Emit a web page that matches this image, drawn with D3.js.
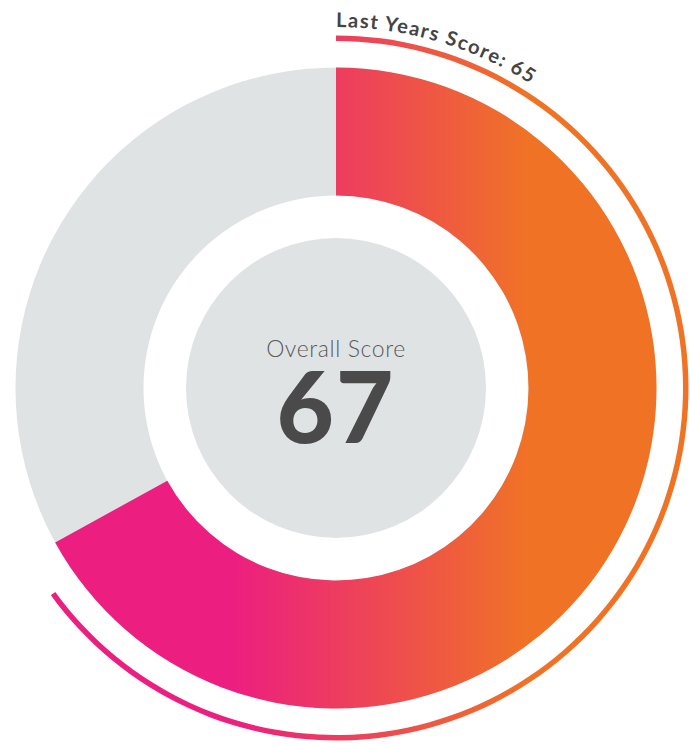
<!DOCTYPE html>
<html>
<head>
<meta charset="utf-8">
<script src="https://cdn.jsdelivr.net/npm/d3@7"></script>
<style>
  html, body { margin: 0; padding: 0; background: #fff; }
  svg { display: block; }
</style>
</head>
<body>
<svg id="chart" width="690" height="746"></svg>
<script>
// ---- data ----
const scoreLabels = ["Overall Score"];
const scoreValues = [67];
const lastYearLabels = ["Last Years Score"];
const lastYearValues = [65];
const scaleMax = [100];
const gradientColors = ["#EC1E80", "#F07325"];
const trackColor = "#E0E3E4";

const svg = d3.select("#chart");
const cx = 336, cy = 388;
const g = svg.append("g").attr("transform", `translate(${cx},${cy})`);

const angle = d3.scaleLinear().domain([0, scaleMax[0]]).range([0, 2 * Math.PI]);

// gradient (horizontal, user space, relative to center)
const defs = svg.append("defs");
const grad = defs.append("linearGradient")
  .attr("id", "scoreGrad")
  .attr("gradientUnits", "userSpaceOnUse")
  .attr("x1", 232 - cx).attr("y1", 0)
  .attr("x2", 530 - cx).attr("y2", 0);
grad.append("stop").attr("offset", 0).attr("stop-color", gradientColors[0]);
grad.append("stop").attr("offset", 1).attr("stop-color", gradientColors[1]);

const rOuter = 320.5, rInner = 192.5, rCore = 150;

// track
g.append("path")
  .attr("d", d3.arc()({innerRadius: rInner, outerRadius: rOuter, startAngle: 0, endAngle: 2 * Math.PI}))
  .attr("fill", trackColor);

// score arc
g.append("path")
  .attr("d", d3.arc()({innerRadius: rInner, outerRadius: rOuter, startAngle: 0, endAngle: angle(scoreValues[0])}))
  .attr("fill", "url(#scoreGrad)");

// last year thin arc
g.append("path")
  .attr("d", d3.arc()({innerRadius: 347, outerRadius: 352.5, startAngle: 0, endAngle: angle(lastYearValues[0])}))
  .attr("fill", "url(#scoreGrad)");

// inner core
g.append("circle").attr("r", rCore).attr("fill", trackColor);

// curved label
const rText = 361;
const textArc = d3.path();
textArc.arc(0, 0, rText, -Math.PI / 2, Math.PI / 2, false);
defs.append("path").attr("id", "labelPath")
  .attr("d", textArc.toString())
  .attr("transform", `translate(${cx},${cy})`);
svg.append("text")
  .attr("font-family", "Lato, 'Open Sans', sans-serif")
  .attr("font-weight", 700)
  .attr("font-size", 20)
  .attr("letter-spacing", 1.5)
  .attr("fill", "#444")
  .append("textPath")
  .attr("href", "#labelPath")
  .attr("startOffset", 0)
  .text(`${lastYearLabels[0]}: ${lastYearValues[0]}`);

// center texts
g.append("text")
  .attr("x", 0).attr("y", 357 - cy)
  .attr("text-anchor", "middle")
  .attr("font-family", "Lato, 'Open Sans', sans-serif")
  .attr("font-weight", 300)
  .attr("font-size", 23)
  .attr("letter-spacing", 0.6)
  .attr("fill", "#5a5a5a")
  .text(scoreLabels[0]);

g.append("text")
  .attr("x", 0).attr("y", 443 - cy)
  .attr("text-anchor", "middle")
  .attr("font-family", "Lato, 'Open Sans', sans-serif")
  .attr("font-weight", 900)
  .attr("font-size", 99)
  .attr("letter-spacing", 2)
  .attr("fill", "#4a4a4a")
  .text(scoreValues[0]);
</script>
</body>
</html>
